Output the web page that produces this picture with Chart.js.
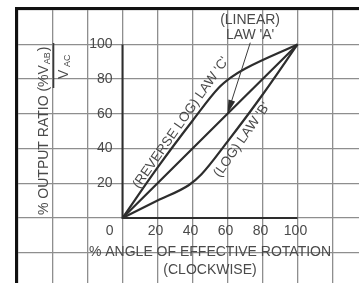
<!DOCTYPE html>
<html>
<head>
<meta charset="utf-8">
<script src="https://cdn.jsdelivr.net/npm/chart.js@4.4.0/dist/chart.umd.min.js"></script>
<style>
  body { margin: 0; background: #fff; }
  canvas { display: block; }
</style>
</head>
<body>
<canvas id="myChart" width="359" height="283"></canvas>
<script>
// % angle of effective rotation (x) vs % output ratio (y)
const linearX = [0, 100];
const linearY = [0, 100];
const logX = [0, 20, 38, 45, 60, 80, 100];
const logY = [0, 10, 19, 25, 44, 71, 100];
const revLogX = [0, 20, 40, 55, 62, 70, 100];
const revLogY = [0, 29, 56, 75, 81, 86, 100];
// the dark axis lines drawn inside the grid
const axisX = [0, 0, 100];
const axisY = [100, 0, 0];
const xTicks = [0, 20, 40, 60, 80, 100];
const yTicks = [20, 40, 60, 80, 100];

const textColor = '#4a4a4a';
const font = '"Liberation Sans", Arial, sans-serif';

function toPoints(xs, ys) {
    return xs.map((v, i) => ({x: v, y: ys[i]}));
}

function lineSet(xs, ys, width) {
    return {
        data: toPoints(xs, ys),
        showLine: true,
        borderColor: '#2d2d2d',
        borderWidth: width,
        pointRadius: 0,
        cubicInterpolationMode: 'monotone',
        fill: false
    };
}

const overlay = {
    id: 'overlay',
    afterDatasetsDraw(chart) {
        const ctx = chart.ctx;
        const x = chart.scales.x, y = chart.scales.y;
        const px = v => x.getPixelForValue(v);
        const py = v => y.getPixelForValue(v);
        ctx.save();
        ctx.fillStyle = textColor;
        ctx.font = '14px ' + font;

        // tick labels
        ctx.textBaseline = 'middle';
        ctx.textAlign = 'right';
        yTicks.forEach(v => ctx.fillText(String(v), px(0) - 10, py(v)));
        xTicks.forEach(v => {
            if (v === 0) {
                ctx.textAlign = 'right';
                ctx.fillText('0', px(0) - 9, py(0) + 13);
            } else {
                ctx.textAlign = 'center';
                ctx.fillText(String(v), px(v) - 2, py(0) + 13);
            }
        });

        // x title
        ctx.textAlign = 'center';
        ctx.fillText('% ANGLE OF EFFECTIVE ROTATION', px(50), py(-20));
        ctx.fillText('(CLOCKWISE)', px(50), py(-30));

        // y title, rotated, with a little fraction
        ctx.save();
        ctx.translate(44, 215);
        ctx.rotate(-Math.PI / 2);
        ctx.textAlign = 'left';
        let s = '% OUTPUT RATIO (%V';
        ctx.fillText(s, 0, 0);
        let w = ctx.measureText(s).width;
        ctx.font = '9px ' + font;
        ctx.fillText('AB', w + 1, 4);
        w += ctx.measureText('AB').width + 2;
        ctx.font = '14px ' + font;
        ctx.fillText(')', w, 0);
        // denominator
        ctx.fillText('V', 136, 20);
        ctx.font = '9px ' + font;
        ctx.fillText('AC', 148, 24);
        ctx.restore();
        ctx.strokeStyle = '#3a3a3a';
        ctx.lineWidth = 1.6;
        ctx.beginPath();
        ctx.moveTo(53.5, 43);
        ctx.lineTo(53.5, 88);
        ctx.stroke();

        // rotated curve labels
        ctx.font = '13.5px ' + font;
        ctx.textAlign = 'center';
        [["(REVERSE LOG) LAW 'C'", 33.4, 54.8], ["(LOG) LAW 'B'", 68.3, 45]].forEach(l => {
            ctx.save();
            ctx.translate(px(l[1]), py(l[2]));
            ctx.rotate(-55 * Math.PI / 180);
            ctx.fillText(l[0], 0, 0);
            ctx.restore();
        });

        // linear label with arrow
        ctx.font = '14px ' + font;
        ctx.fillText('(LINEAR)', px(72.9), py(114));
        ctx.fillText("LAW 'A'", px(72.9), py(105.5));
        const x0 = px(73), y0 = py(101), x1 = px(60), y1 = py(60);
        const len = Math.hypot(x1 - x0, y1 - y0);
        const ux = (x1 - x0) / len, uy = (y1 - y0) / len;
        ctx.strokeStyle = '#3a3a3a';
        ctx.lineWidth = 1;
        ctx.beginPath();
        ctx.moveTo(x0, y0);
        ctx.lineTo(x1 - ux * 10, y1 - uy * 10);
        ctx.stroke();
        ctx.fillStyle = '#2d2d2d';
        ctx.beginPath();
        ctx.moveTo(x1, y1);
        ctx.lineTo(x1 - ux * 14 - uy * 3.5, y1 - uy * 14 + ux * 3.5);
        ctx.lineTo(x1 - ux * 14 + uy * 3.5, y1 - uy * 14 - ux * 3.5);
        ctx.closePath();
        ctx.fill();
        ctx.restore();
    }
};

const gridOpts = {color: '#8e8e8e', lineWidth: 1.3, drawTicks: false};

new Chart(document.getElementById('myChart'), {
    type: 'scatter',
    data: {
        datasets: [
            lineSet(axisX, axisY, 2),
            lineSet(linearX, linearY, 2.2),
            lineSet(logX, logY, 2.2),
            lineSet(revLogX, revLogY, 2.2)
        ]
    },
    options: {
        responsive: false,
        animation: false,
        layout: {padding: {left: 16, top: 8, right: 0, bottom: 0}},
        plugins: {legend: {display: false}, tooltip: {enabled: false}},
        scales: {
            x: {
                type: 'linear',
                position: 'top',
                min: -60.86, max: 135.14,
                grid: gridOpts,
                border: {display: true, color: '#111', width: 3},
                ticks: {display: false, stepSize: 20, includeBounds: false}
            },
            y: {
                type: 'linear',
                min: -37.5, max: 121,
                grid: gridOpts,
                border: {display: true, color: '#111', width: 3},
                ticks: {display: false, stepSize: 20, includeBounds: false}
            }
        }
    },
    plugins: [overlay]
});
</script>
</body>
</html>
